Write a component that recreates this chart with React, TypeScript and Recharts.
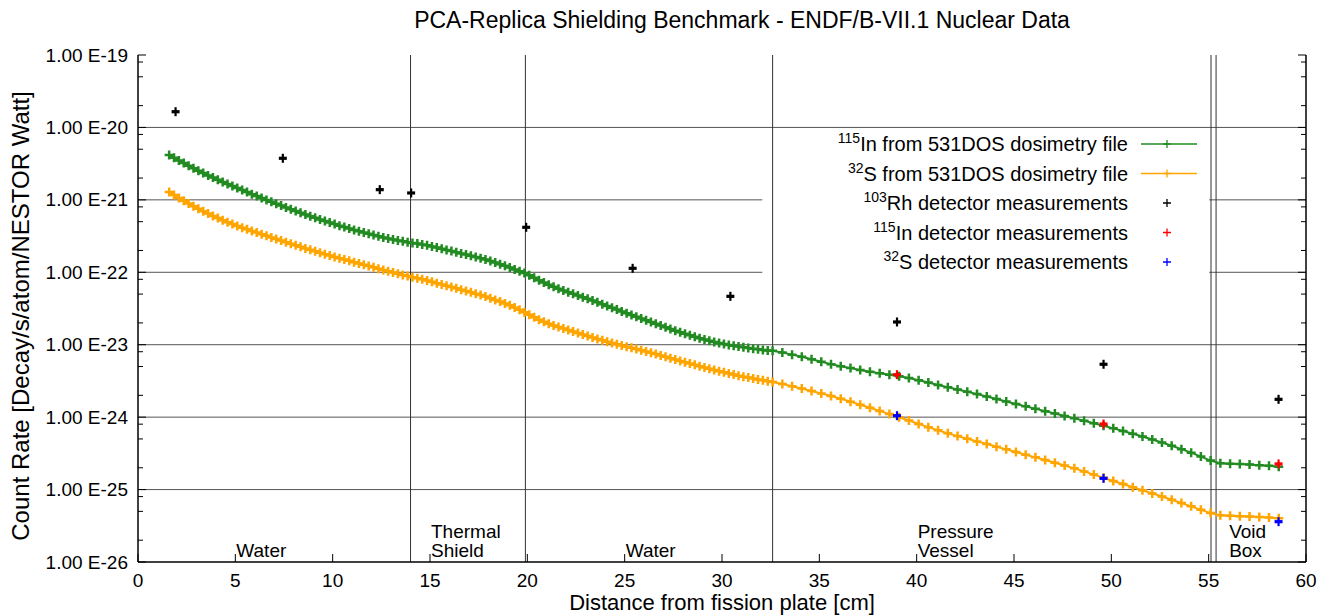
import React from 'react';
import {
  ComposedChart,
  Line,
  Scatter,
  XAxis,
  YAxis,
  ReferenceLine,
  ReferenceDot,
} from 'recharts';

const FONT = '"Liberation Sans", Arial, Helvetica, sans-serif';

// ---------- data (count rates stored as log10 values) ----------
const distanceCm = [
  1.6, 1.85, 2.1, 2.35, 2.6, 2.85, 3.1, 3.35, 3.6, 3.85, 4.1, 4.35, 4.6, 4.85, 5.1, 5.35, 5.6, 5.85,
  6.1, 6.35, 6.6, 6.85, 7.1, 7.35, 7.6, 7.85, 8.1, 8.35, 8.6, 8.85, 9.1, 9.35, 9.6, 9.85, 10.1, 10.35,
  10.6, 10.85, 11.1, 11.35, 11.6, 11.85, 12.1, 12.35, 12.6, 12.85, 13.1, 13.35, 13.6, 13.85, 14.1,
  14.35, 14.6, 14.85, 15.1, 15.35, 15.6, 15.85, 16.1, 16.35, 16.6, 16.85, 17.1, 17.35, 17.6, 17.85,
  18.1, 18.35, 18.6, 18.85, 19.1, 19.35, 19.6, 19.85, 20.1, 20.35, 20.6, 20.85, 21.1, 21.35, 21.6,
  21.85, 22.1, 22.35, 22.6, 22.85, 23.1, 23.35, 23.6, 23.85, 24.1, 24.35, 24.6, 24.85, 25.1, 25.35,
  25.6, 25.85, 26.1, 26.35, 26.6, 26.85, 27.1, 27.35, 27.6, 27.85, 28.1, 28.35, 28.6, 28.85, 29.1,
  29.35, 29.6, 29.85, 30.1, 30.35, 30.6, 30.85, 31.1, 31.35, 31.6, 31.85, 32.1, 32.35, 32.6,
  33.1, 33.6, 34.1, 34.6, 35.1, 35.6, 36.1, 36.6, 37.1, 37.6, 38.1, 38.6, 39.1, 39.6, 40.1, 40.6,
  41.1, 41.6, 42.1, 42.6, 43.1, 43.6, 44.1, 44.6, 45.1, 45.6, 46.1, 46.6, 47.1, 47.6, 48.1, 48.6,
  49.1, 49.6, 50.1, 50.6, 51.1, 51.6, 52.1, 52.6, 53.1, 53.6, 54.1, 54.6, 55.1,
  55.6, 56.1, 56.6, 57.1, 57.6, 58.1, 58.6,
];

const in115CalcLog = [
  -20.381, -20.419, -20.456, -20.492, -20.528, -20.563, -20.597, -20.63, -20.662, -20.693, -20.723,
  -20.752, -20.781, -20.809, -20.837, -20.865, -20.893, -20.921, -20.948, -20.975, -21.001, -21.027,
  -21.053, -21.079, -21.104, -21.129, -21.153, -21.177, -21.201, -21.225, -21.248, -21.271, -21.293,
  -21.314, -21.335, -21.356, -21.376, -21.396, -21.415, -21.434, -21.452, -21.469, -21.486, -21.502,
  -21.518, -21.533, -21.548, -21.561, -21.573, -21.584, -21.594, -21.604, -21.615, -21.628, -21.643,
  -21.659, -21.675, -21.691, -21.707, -21.723, -21.739, -21.755, -21.771, -21.788, -21.806, -21.825,
  -21.845, -21.866, -21.888, -21.911, -21.935, -21.96, -21.985, -22.01, -22.04, -22.076, -22.11,
  -22.142, -22.172, -22.2, -22.226, -22.251, -22.275, -22.298, -22.321, -22.344, -22.367, -22.391,
  -22.415, -22.44, -22.465, -22.49, -22.515, -22.54, -22.565, -22.59, -22.615, -22.639, -22.663,
  -22.687, -22.711, -22.735, -22.759, -22.783, -22.806, -22.828, -22.85, -22.871, -22.891, -22.91,
  -22.928, -22.945, -22.961, -22.976, -22.99, -23.003, -23.015, -23.026, -23.036, -23.046, -23.055,
  -23.064, -23.072, -23.079, -23.085,
  -23.108, -23.137, -23.167, -23.2, -23.235, -23.268, -23.297, -23.323, -23.349, -23.372, -23.394,
  -23.414, -23.436, -23.461, -23.49, -23.523, -23.556, -23.587, -23.617, -23.649, -23.682, -23.716,
  -23.75, -23.785, -23.818, -23.851, -23.884, -23.917, -23.95, -23.984, -24.017, -24.05, -24.085,
  -24.12, -24.155, -24.192, -24.229, -24.268, -24.308, -24.35, -24.395, -24.442, -24.49, -24.545,
  -24.6,
  -24.637, -24.643, -24.648, -24.655, -24.663, -24.672, -24.684,
];

const s32CalcLog = [
  -20.89, -20.932, -20.973, -21.012, -21.05, -21.087, -21.123, -21.157, -21.19, -21.222, -21.252,
  -21.281, -21.309, -21.335, -21.36, -21.384, -21.407, -21.43, -21.452, -21.474, -21.496, -21.518,
  -21.54, -21.562, -21.584, -21.606, -21.628, -21.649, -21.67, -21.69, -21.71, -21.73, -21.75,
  -21.769, -21.788, -21.806, -21.824, -21.842, -21.86, -21.878, -21.896, -21.914, -21.932, -21.95,
  -21.968, -21.986, -22.004, -22.021, -22.037, -22.052, -22.067, -22.082, -22.097, -22.114, -22.132,
  -22.15, -22.168, -22.186, -22.204, -22.222, -22.24, -22.258, -22.276, -22.295, -22.315, -22.336,
  -22.358, -22.381, -22.405, -22.43, -22.456, -22.485, -22.517, -22.551, -22.587, -22.622, -22.654,
  -22.683, -22.709, -22.733, -22.755, -22.776, -22.797, -22.818, -22.839, -22.86, -22.88, -22.9, -22.92,
  -22.94, -22.959, -22.977, -22.994, -23.011, -23.027, -23.043, -23.059, -23.075, -23.093, -23.111,
  -23.129, -23.148, -23.167, -23.186, -23.205, -23.224, -23.242, -23.26, -23.278, -23.296, -23.314,
  -23.332, -23.349, -23.365, -23.381, -23.397, -23.412, -23.427, -23.441, -23.454, -23.467, -23.479,
  -23.491, -23.503, -23.515,
  -23.543, -23.574, -23.605, -23.638, -23.672, -23.707, -23.745, -23.786, -23.828, -23.871, -23.914,
  -23.958, -24.002, -24.047, -24.093, -24.138, -24.182, -24.224, -24.262, -24.298, -24.335, -24.372,
  -24.409, -24.445, -24.481, -24.518, -24.555, -24.592, -24.629, -24.667, -24.707, -24.749, -24.793,
  -24.838, -24.881, -24.924, -24.967, -25.01, -25.053, -25.096, -25.14, -25.185, -25.232, -25.28,
  -25.325,
  -25.355, -25.362, -25.367, -25.373, -25.38, -25.387, -25.397,
];

const rhMeasCm = [1.93, 7.44, 12.42, 14.03, 19.94, 25.41, 30.43, 38.99, 49.6, 58.59];
const rhMeasLog = [-19.783, -20.426, -20.859, -20.905, -21.379, -21.945, -22.332, -22.686, -23.27, -23.754];
const inMeasCm = [38.99, 49.6, 58.59];
const inMeasLog = [-23.414, -24.095, -24.646];
const sMeasCm = [38.99, 49.6, 58.59];
const sMeasLog = [-23.98, -24.845, -25.443];

const boundaryCm = [14.0, 19.9, 32.6, 55.12, 55.38];
const regionLabels = [
  { x: 5, lines: ['Water'] },
  { x: 15, lines: ['Thermal', 'Shield'] },
  { x: 25, lines: ['Water'] },
  { x: 40, lines: ['Pressure', 'Vessel'] },
  { x: 56, lines: ['Void', 'Box'] },
];

const xTicks = [0, 5, 10, 15, 20, 25, 30, 35, 40, 45, 50, 55, 60];
const yDecades = [-26, -25, -24, -23, -22, -21, -20, -19];
const yMinorFactors = [2, 5, 8];
const fullGridDecades = [-20, -23, -24, -25];
const splitGridDecades = [-21, -22];
const legendGapCm = [32.07, 55.03];

// ---------- derived tables ----------
const toSeries = (xs: number[], logs: number[]) =>
  xs.slice(0, Math.min(xs.length, logs.length)).map((x, i) => ({ x, y: Math.pow(10, logs[i]) }));

const in115Data = toSeries(distanceCm, in115CalcLog);
const s32Data = toSeries(distanceCm, s32CalcLog);
const rhData = toSeries(rhMeasCm, rhMeasLog);
const inData = toSeries(inMeasCm, inMeasLog);
const sData = toSeries(sMeasCm, sMeasLog);

const yTicks: number[] = [];
yDecades.forEach((e) => {
  yTicks.push(Math.pow(10, e));
  if (e < -19) yMinorFactors.forEach((f) => yTicks.push(f * Math.pow(10, e)));
});

const W = 1330;
const H = 616;
const TM = 10;

const isDecade = (v: number) => {
  const l = Math.log10(v);
  return Math.abs(l - Math.round(l)) < 1e-6;
};

const LeftTick = (props: any) => {
  const { x, y, payload } = props;
  const v = payload.value;
  const major = isDecade(v);
  const ax = x + TM;
  return (
    <g>
      <line x1={ax} x2={ax + (major ? 8 : 5)} y1={y} y2={y} stroke="#000" strokeWidth={1} />
      {major && (
        <text x={x} y={y + 6.5} textAnchor="end" fontSize={19} fontFamily={FONT} fill="#000">
          {`1.00 E${Math.round(Math.log10(v))}`}
        </text>
      )}
    </g>
  );
};

const RightTick = (props: any) => {
  const { x, y, payload } = props;
  const major = isDecade(payload.value);
  const ax = x - TM;
  return <line x1={ax} x2={ax - (major ? 8 : 5)} y1={y} y2={y} stroke="#000" strokeWidth={1} />;
};

const BottomTick = (props: any) => {
  const { x, y, payload } = props;
  const ay = y - TM;
  return (
    <g>
      <line x1={x} x2={x} y1={ay} y2={ay - 8} stroke="#000" strokeWidth={1} />
      <text x={x} y={ay + 24.5} textAnchor="middle" fontSize={19} fontFamily={FONT} fill="#000">
        {payload.value}
      </text>
    </g>
  );
};

const TopTick = (props: any) => {
  const { x, y } = props;
  const ay = y + TM;
  return <line x1={x} x2={x} y1={ay} y2={ay + 8} stroke="#000" strokeWidth={1} />;
};

const plusDot = (color: string, arm: number, sw: number) => (props: any) => {
  const { cx, cy, index } = props;
  if (cx == null || cy == null) return <g key={`e${index}`} />;
  return (
    <path
      key={`p${index}`}
      d={`M${cx - arm},${cy}H${cx + arm}M${cx},${cy - arm}V${cy + arm}`}
      stroke={color}
      strokeWidth={sw}
      fill="none"
    />
  );
};

const measShape = (color: string) => (props: any) => {
  const { cx, cy } = props;
  if (cx == null || cy == null) return <g />;
  return (
    <g>
      <path d={`M${cx - 4},${cy}H${cx + 4}`} stroke={color} strokeWidth={3.2} />
      <path d={`M${cx},${cy - 4.5}V${cy + 4.5}`} stroke={color} strokeWidth={2.2} />
    </g>
  );
};

const regionShape = (lines: string[]) => (props: any) => {
  const { cx, cy } = props;
  if (cx == null || cy == null) return <g />;
  const n = lines.length;
  return (
    <g>
      {lines.map((t, i) => (
        <text
          key={t}
          x={cx + 1}
          y={cy - 5 - (n - 1 - i) * 19.5}
          fontSize={19}
          fontFamily={FONT}
          fill="#000"
        >
          {t}
        </text>
      ))}
    </g>
  );
};

const legendRows = [
  { sup: '115', text: 'In from 531DOS dosimetry file', color: '#228b22', line: true },
  { sup: '32', text: 'S from 531DOS dosimetry file', color: '#ffa500', line: true },
  { sup: '103', text: 'Rh detector measurements', color: '#000000', line: false },
  { sup: '115', text: 'In detector measurements', color: '#ff0000', line: false },
  { sup: '32', text: 'S detector measurements', color: '#0000ff', line: false },
];

const Overlay = () => {
  const rowY = [144, 173.5, 203, 232.5, 262];
  return (
    <svg
      width={W}
      height={H}
      style={{ position: 'absolute', left: 0, top: 0, pointerEvents: 'none' }}
    >
      <text x={742} y={28} textAnchor="middle" fontSize={23} fontFamily={FONT} fill="#000">
        PCA-Replica Shielding Benchmark - ENDF/B-VII.1 Nuclear Data
      </text>
      <text x={722} y={610} textAnchor="middle" fontSize={22} fontFamily={FONT} fill="#000">
        Distance from fission plate [cm]
      </text>
      <text
        x={0}
        y={0}
        transform="translate(29,316) rotate(-90)"
        textAnchor="middle"
        fontSize={24}
        fontFamily={FONT}
        fill="#000"
      >
        Count Rate [Decay/s/atom/NESTOR Watt]
      </text>
      {legendRows.map((r, i) => {
        const y = rowY[i];
        return (
          <g key={i}>
            <text x={1128} y={y + 7} textAnchor="end" fontSize={20} fontFamily={FONT} fill="#000">
              <tspan fontSize={14} dy={-8}>
                {r.sup}
              </tspan>
              <tspan dy={8}>{r.text}</tspan>
            </text>
            {r.line && (
              <line x1={1141} x2={1197} y1={y} y2={y} stroke={r.color} strokeWidth={1.5} />
            )}
            <path
              d={`M${1163},${y}H${1171}M${1167},${y - 4}V${y + 4}`}
              stroke={r.color}
              strokeWidth={1.3}
              fill="none"
            />
          </g>
        );
      })}
    </svg>
  );
};

export default function App() {
  return (
    <div style={{ position: 'absolute', left: 0, top: 0, width: W, height: H, background: '#fff' }}>
      <ComposedChart width={W} height={H} margin={{ top: 55, right: 0, bottom: 0, left: 0 }}>
        <XAxis
          xAxisId={0}
          dataKey="x"
          type="number"
          domain={[0, 60]}
          ticks={xTicks}
          interval={0}
          allowDataOverflow
          height={H - 562}
          tickSize={0}
          tickMargin={TM}
          tickLine={false}
          axisLine={{ stroke: '#000', strokeWidth: 1.5 }}
          tick={<BottomTick />}
        />
        <XAxis
          xAxisId="top"
          orientation="top"
          dataKey="x"
          type="number"
          domain={[0, 60]}
          ticks={xTicks}
          interval={0}
          allowDataOverflow
          height={0}
          tickSize={0}
          tickMargin={TM}
          tickLine={false}
          axisLine={{ stroke: '#000', strokeWidth: 1.5 }}
          tick={<TopTick />}
        />
        <YAxis
          yAxisId={0}
          dataKey="y"
          type="number"
          scale="log"
          domain={[1e-26, 1e-19]}
          ticks={yTicks}
          interval={0}
          allowDataOverflow
          width={138}
          tickSize={0}
          tickMargin={TM}
          tickLine={false}
          axisLine={{ stroke: '#000', strokeWidth: 1.5 }}
          tick={<LeftTick />}
        />
        <YAxis
          yAxisId="right"
          orientation="right"
          dataKey="y"
          type="number"
          scale="log"
          domain={[1e-26, 1e-19]}
          ticks={yTicks}
          interval={0}
          allowDataOverflow
          width={24}
          tickSize={0}
          tickMargin={TM}
          tickLine={false}
          axisLine={{ stroke: '#000', strokeWidth: 1.5 }}
          tick={<RightTick />}
        />

        {fullGridDecades.map((e) => (
          <ReferenceLine key={`g${e}`} y={Math.pow(10, e)} stroke="#555" strokeWidth={1} />
        ))}
        {splitGridDecades.map((e) => (
          <ReferenceLine
            key={`sa${e}`}
            segment={[
              { x: 0, y: Math.pow(10, e) },
              { x: legendGapCm[0], y: Math.pow(10, e) },
            ]}
            stroke="#555"
            strokeWidth={1}
          />
        ))}
        {splitGridDecades.map((e) => (
          <ReferenceLine
            key={`sb${e}`}
            segment={[
              { x: legendGapCm[1], y: Math.pow(10, e) },
              { x: 60, y: Math.pow(10, e) },
            ]}
            stroke="#555"
            strokeWidth={1}
          />
        ))}
        {boundaryCm.map((b) => (
          <ReferenceLine key={`b${b}`} x={b} stroke="#333" strokeWidth={1} />
        ))}
        {regionLabels.map((r) => (
          <ReferenceDot
            key={`r${r.x}`}
            x={r.x}
            y={1e-26}
            r={0}
            ifOverflow="visible"
            shape={regionShape(r.lines)}
          />
        ))}

        <Line
          data={in115Data}
          dataKey="y"
          type="linear"
          stroke="#228b22"
          strokeWidth={2}
          dot={plusDot('#228b22', 4.5, 2.5)}
          activeDot={false}
          isAnimationActive={false}
        />
        <Line
          data={s32Data}
          dataKey="y"
          type="linear"
          stroke="#ffa500"
          strokeWidth={2}
          dot={plusDot('#ffa500', 4.5, 2.5)}
          activeDot={false}
          isAnimationActive={false}
        />
        <Scatter data={rhData} fill="#000" shape={measShape('#000')} isAnimationActive={false} />
        <Scatter data={inData} fill="#ff0000" shape={measShape('#ff0000')} isAnimationActive={false} />
        <Scatter data={sData} fill="#0000ff" shape={measShape('#0000ff')} isAnimationActive={false} />
      </ComposedChart>
      <Overlay />
    </div>
  );
}
